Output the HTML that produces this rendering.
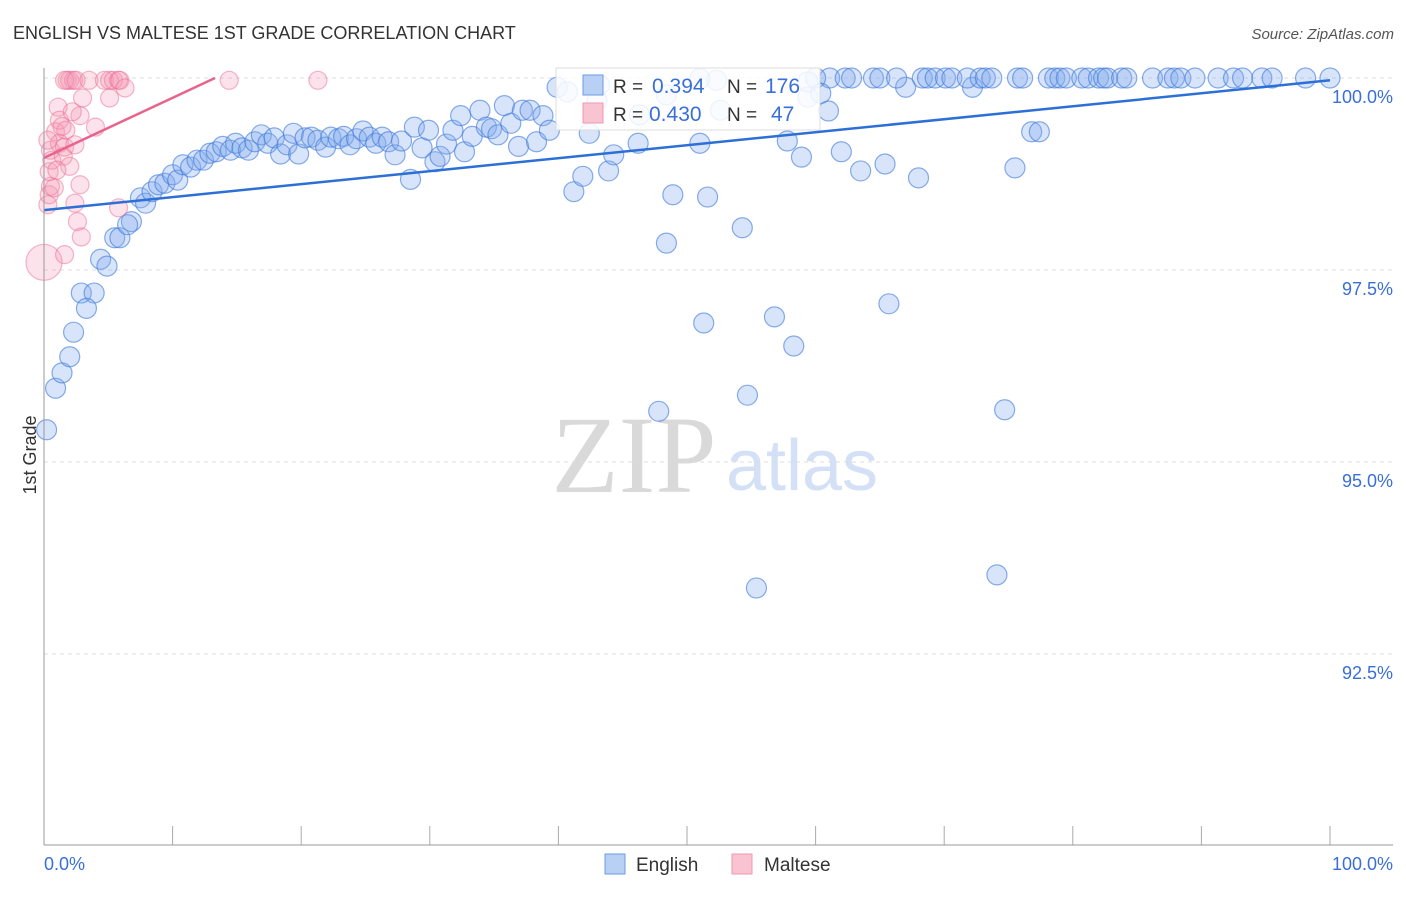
<!DOCTYPE html>
<html><head><meta charset="utf-8"><style>
body{margin:0;background:#fff;font-family:"Liberation Sans",sans-serif}
</style></head><body>
<svg id="c" width="1406" height="892" font-family="Liberation Sans, sans-serif">
<text x="13" y="39" font-size="18" fill="#333">ENGLISH VS MALTESE 1ST GRADE CORRELATION CHART</text>
<text x="1394" y="39" font-size="15" fill="#555" font-style="italic" text-anchor="end">Source: ZipAtlas.com</text>
<text x="634" y="492" font-size="110" fill="#d9d9d9" style="font-family:'Liberation Serif',serif" text-anchor="middle">ZIP</text>
<text x="802" y="490" font-size="72" fill="#d3e0f5" text-anchor="middle">atlas</text>
<g id="grid"></g><g id="pts"></g><g id="lines"></g>
<line x1="44" y1="68" x2="44" y2="845" stroke="#999"/>
<line x1="44" y1="845" x2="1393" y2="845" stroke="#999"/>
<text x="36" y="455" font-size="18" fill="#333" transform="rotate(-90 36 455)" text-anchor="middle">1st Grade</text>
<text x="44" y="870" font-size="18" fill="#3a6fd8">0.0%</text>
<text x="1393" y="870" font-size="18" fill="#3a6fd8" text-anchor="end">100.0%</text>
<g>
<rect x="556" y="68" width="264" height="62" fill="#fff" fill-opacity="0.85" stroke="#ddd"/>
<rect x="583" y="75" width="20" height="20" fill="#b7d0f4" stroke="#6d9be3"/>
<rect x="583" y="103" width="20" height="20" fill="#f9c3d2" stroke="#ee9ab2"/>
<text x="613" y="93" font-size="19" fill="#333">R = </text><text x="652" y="93" font-size="21" fill="#3a6fd8">0.394</text>
<text x="727" y="93" font-size="19" fill="#333">N = </text><text x="765" y="93" font-size="21" fill="#3a6fd8">176</text>
<text x="613" y="121" font-size="19" fill="#333">R = </text><text x="649" y="121" font-size="21" fill="#3a6fd8">0.430</text>
<text x="727" y="121" font-size="19" fill="#333">N = </text><text x="771" y="121" font-size="21" fill="#3a6fd8">47</text>
</g>
<g><rect x="605" y="854" width="20" height="20" fill="#b7d0f4" stroke="#6d9be3"/><text x="636" y="871" font-size="19" fill="#333">English</text></g>
<g><rect x="732" y="854" width="20" height="20" fill="#f9c3d2" stroke="#ee9ab2"/><text x="764" y="871" font-size="19" fill="#333">Maltese</text></g>
</svg>
<script>
const yTicks=[100,97.5,95,92.5];
const yTickLabels=["100.0%","97.5%","95.0%","92.5%"];
const xTicks=[0,10,20,30,40,50,60,70,80,90,100];
const englishX=[0.2,0.9,1.4,2.0,2.3,2.9,3.9,3.3,4.4,4.9,5.5,5.9,6.8,6.5,7.5,7.9,8.4,8.9,9.4,10.0,10.4,10.8,11.4,11.9,12.4,12.9,13.4,13.9,14.5,14.9,15.4,15.9,16.4,16.9,17.4,17.9,18.4,18.9,19.4,19.8,20.3,20.8,21.3,21.9,22.3,22.9,23.3,23.8,24.3,24.8,25.3,25.8,26.3,26.8,27.3,27.8,28.5,28.8,29.4,29.9,30.4,30.8,31.3,31.8,32.4,32.7,33.3,33.9,34.4,34.8,35.3,35.8,36.3,36.9,37.2,37.8,38.3,38.8,39.3,39.9,41.2,41.9,42.4,43.9,44.3,46.2,48.9,48.4,51.3,47.8,51.6,51.0,52.3,54.3,54.7,55.4,56.8,58.3,57.8,58.9,59.4,61.0,61.1,62.0,63.5,65.4,65.7,67.0,68.0,72.2,74.1,74.7,75.5,76.8,77.4,60.0,62.3,62.8,64.5,65.0,66.3,68.3,68.7,69.3,70.1,70.6,71.8,72.8,73.2,73.7,75.7,76.1,78.1,78.6,79.0,79.5,80.7,81.2,82.0,82.4,82.7,83.8,84.2,86.2,87.4,87.9,88.4,89.5,91.3,92.5,93.2,94.7,95.5,98.1,100,40.7,43.0,43.2,46.3,48.4,51.0,52.6,59.4,60.4];
const englishY=[95.42,95.96,96.16,96.37,96.69,97.20,97.20,97.00,97.64,97.55,97.92,97.92,98.13,98.09,98.44,98.37,98.52,98.61,98.63,98.74,98.67,98.87,98.84,98.93,98.93,99.02,99.04,99.11,99.06,99.15,99.09,99.06,99.17,99.26,99.15,99.22,99.01,99.13,99.28,99.01,99.22,99.23,99.19,99.10,99.23,99.21,99.24,99.13,99.21,99.31,99.23,99.15,99.23,99.17,99.00,99.18,98.68,99.36,99.09,99.32,98.91,98.98,99.14,99.32,99.51,99.04,99.24,99.58,99.36,99.34,99.26,99.64,99.41,99.11,99.58,99.58,99.17,99.51,99.32,99.88,98.52,98.72,99.28,98.79,99.00,99.15,98.48,97.85,96.81,95.66,98.45,99.15,99.97,98.05,95.87,93.36,96.89,96.51,99.18,98.97,99.75,99.57,100,99.04,98.79,98.88,97.06,99.88,98.70,99.88,93.53,95.68,98.83,99.30,99.30,100,100,100,100,100,100,100,100,100,100,100,100,100,100,100,100,100,100,100,100,100,100,100,100,100,100,100,100,100,100,100,100,100,100,100,100,100,100,100,100,99.82,99.71,99.91,99.52,99.78,99.99,99.58,99.95,99.8];
const malteseX=[0,0.3,0.4,0.5,0.4,0.6,0.5,0.9,1.1,0.8,1.2,1.5,1.6,1.8,2.0,2.3,1.6,2.5,2.0,2.4,2.4,2.6,2.8,3.0,2.8,2.9,1.6,3.5,4.0,4.7,5.1,5.1,5.4,5.8,5.9,6.3,5.8,14.4,21.3,1.2,1.7,0.3,2.2,1.0,1.4];
const malteseY=[97.60,98.35,98.48,98.59,98.78,98.93,99.06,99.30,99.62,98.57,99.15,98.98,99.10,99.97,99.97,99.97,99.97,99.97,98.85,99.13,98.37,98.13,99.51,99.74,98.61,97.93,97.70,99.97,99.36,99.97,99.74,99.97,99.97,99.97,99.97,99.87,98.31,99.97,99.97,99.45,99.32,99.19,99.56,98.80,99.37];
const englishTrend=[98.28,99.97];
const malteseTrend=[98.96,100];
const malteseTrendEndX=13.3;
const NS="http://www.w3.org/2000/svg";
const X=v=>44+v*12.86, Y=v=>78+(100-v)*76.8;
function mk(t,a,p){const e=document.createElementNS(NS,t);for(const k in a)e.setAttribute(k,a[k]);document.getElementById(p).appendChild(e);return e;}
yTicks.forEach((t,i)=>{
 const l=mk('line',{x1:44,x2:1393,y1:Y(t),y2:Y(t),stroke:'#ddd','stroke-dasharray':'4 4'},'grid');
 
 
 const tx=mk('text',{x:1393,y:Y(t)+25,'font-size':18,fill:'#3a6fd8','text-anchor':'end'},'grid');
 tx.textContent=yTickLabels[i];
 
 
});
xTicks.forEach(t=>{
 const l=mk('line',{x1:X(t),x2:X(t),y1:826,y2:845,stroke:'#aaa'},'grid');
 
 
});
englishX.forEach((x,i)=>{
 const c=mk('circle',{cx:X(x),cy:Y(englishY[i]),r:10,fill:'rgba(130,172,235,0.32)',stroke:'rgba(60,120,220,0.6)','stroke-width':1.2},'pts');
 
 
});
malteseX.forEach((x,i)=>{
 const c=mk('circle',{cx:X(x),cy:Y(malteseY[i]),r:i===0?18:9,fill:'rgba(245,150,180,0.28)',stroke:'rgba(235,110,150,0.5)','stroke-width':1.2},'pts');
 
 
});
const bl=mk('line',{x1:X(0),y1:Y(englishTrend[0]),x2:X(100),y2:Y(englishTrend[1]),stroke:'#2c6fd6','stroke-width':2.5},'lines');


const pl=mk('line',{x1:X(0),y1:Y(malteseTrend[0]),x2:X(malteseTrendEndX),y2:Y(malteseTrend[1]),stroke:'#e8638d','stroke-width':2.5},'lines');


</script>
</body></html>
